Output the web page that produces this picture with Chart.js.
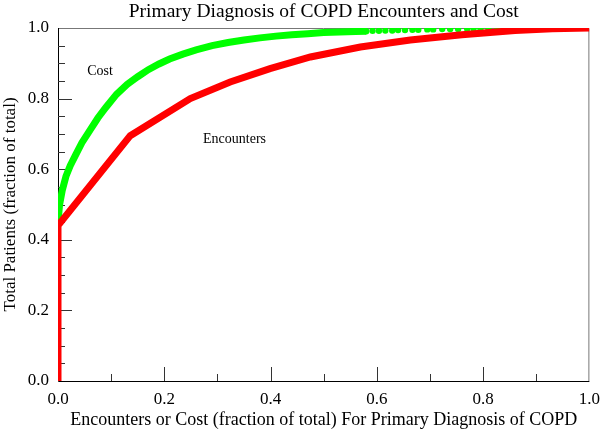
<!DOCTYPE html>
<html>
<head>
  <title>Primary Diagnosis of COPD Encounters and Cost</title>
  <script src="https://cdn.jsdelivr.net/npm/chart.js"></script>
  <style>
    body { margin: 0; background: white; }
    #wrap { width: 600px; height: 431px; }
  </style>
</head>
<body>
  <div id="wrap"><canvas id="copdChart" width="600" height="431"></canvas></div>

  <script>
    // Encounters curve (red)
    const encX = [0, 0, 0.136, 0.249, 0.324, 0.399, 0.475, 0.569, 0.663, 0.76, 0.86, 0.93, 1.0];
    const encY = [0, 0.44, 0.695, 0.80, 0.847, 0.885, 0.918, 0.946, 0.966, 0.981, 0.993, 0.998, 1.0];

    // Cost curve (green) - solid part then separate dots near the end
    const costX = [0, 0.003, 0.008, 0.015, 0.023, 0.033, 0.045, 0.06, 0.075, 0.09, 0.11, 0.13, 0.15, 0.17, 0.19,
                   0.21, 0.235, 0.26, 0.29, 0.32, 0.35, 0.38, 0.41, 0.44, 0.47, 0.50, 0.53, 0.56, 0.58,
                   0.592, 0.604, 0.616, 0.629, 0.640, 0.653, 0.667, 0.678, 0.695, 0.706, 0.723, 0.738,
                   0.753, 0.770, 0.782, 0.795, 0.810, 0.827, 0.847, 0.870, 0.895, 0.923];
    const costY = [0.45, 0.50, 0.54, 0.58, 0.61, 0.64, 0.675, 0.71, 0.745, 0.775, 0.812, 0.84, 0.862, 0.882, 0.898,
                   0.912, 0.926, 0.938, 0.95, 0.959, 0.966, 0.972, 0.977, 0.981, 0.984, 0.987, 0.989, 0.990, 0.991,
                   0.992, 0.992, 0.993, 0.993, 0.994, 0.994, 0.995, 0.995, 0.996, 0.996, 0.997, 0.997,
                   0.997, 0.998, 0.998, 0.998, 0.999, 0.999, 0.999, 1.0, 1.0, 1.0];
    const dotsFrom = 0.58;

    const xMinorStep = 0.1;
    const yMinorStep = 0.05;

    const titleText = 'Primary Diagnosis of COPD Encounters and Cost';
    const xTitle = 'Encounters or Cost (fraction of total) For Primary Diagnosis of COPD';
    const yTitle = 'Total Patients (fraction of total)';
    const curveLabels = ['Cost', 'Encounters'];
    const labelX = [0.055, 0.273];
    const labelY = [0.867, 0.674];

    const serif = '"Liberation Serif", "Times New Roman", serif';
    const toPoints = (xs, ys) => xs.map((v, i) => ({ x: v, y: ys[i] }));

    // frame + inward tick marks
    const framePlugin = {
      id: 'frame',
      beforeDatasetsDraw(chart) {
        const { ctx, chartArea: a, scales: { x, y } } = chart;
        ctx.save();
        ctx.lineWidth = 1;
        ctx.strokeStyle = '#777';
        ctx.beginPath();
        ctx.moveTo(a.left, a.top + 0.5);
        ctx.lineTo(a.right - 0.5, a.top + 0.5);
        ctx.lineTo(a.right - 0.5, a.bottom);
        ctx.stroke();

        ctx.strokeStyle = '#000';
        ctx.beginPath();
        ctx.moveTo(a.left + 0.5, a.top);
        ctx.lineTo(a.left + 0.5, a.bottom + 0.5);
        ctx.lineTo(a.right, a.bottom + 0.5);
        ctx.stroke();

        ctx.strokeStyle = '#333';
        ctx.beginPath();
        for (let i = 1; i < 10; i++) {
          const px = Math.round(x.getPixelForValue(i * xMinorStep)) + 0.5;
          const len = i % 2 === 0 ? 14 : 7;
          ctx.moveTo(px, a.bottom);
          ctx.lineTo(px, a.bottom - len);
        }
        for (let i = 1; i < 20; i++) {
          const py = Math.round(y.getPixelForValue(i * yMinorStep)) + 0.5;
          const len = i % 4 === 0 ? 14 : 7;
          ctx.moveTo(a.left, py);
          ctx.lineTo(a.left + len, py);
        }
        ctx.stroke();
        ctx.restore();
      },
      afterDatasetsDraw(chart) {
        const { ctx, chartArea: a, scales: { x, y } } = chart;
        ctx.save();
        ctx.fillStyle = '#000';
        ctx.font = '19.5px ' + serif;
        ctx.textAlign = 'center';
        ctx.textBaseline = 'alphabetic';
        ctx.fillText(titleText, (a.left + a.right) / 2, 17);

        ctx.font = '14px ' + serif;
        ctx.textAlign = 'left';
        curveLabels.forEach((t, i) => {
          ctx.fillText(t, x.getPixelForValue(labelX[i]), y.getPixelForValue(labelY[i]));
        });
        ctx.restore();
      }
    };

    new Chart(document.getElementById('copdChart').getContext('2d'), {
      type: 'scatter',
      data: {
        datasets: [
          {
            label: 'Encounters',
            data: toPoints(encX, encY),
            showLine: true,
            borderColor: '#ff0000',
            backgroundColor: '#ff0000',
            borderWidth: 7,
            pointRadius: 0,
            borderJoinStyle: 'miter'
          },
          {
            label: 'Cost',
            data: toPoints(costX, costY),
            showLine: true,
            borderColor: '#00ff00',
            backgroundColor: '#00ff00',
            borderWidth: 7,
            pointRadius: ctx => (ctx.raw && ctx.raw.x >= dotsFrom ? 3.2 : 0),
            pointBorderWidth: 0,
            segment: {
              borderColor: ctx => (ctx.p0.parsed.x >= dotsFrom ? 'rgba(0,0,0,0)' : '#00ff00')
            }
          }
        ]
      },
      options: {
        responsive: false,
        animation: false,
        layout: { padding: { top: 28, right: 0, bottom: 0, left: 0 } },
        plugins: {
          legend: { display: false },
          tooltip: { enabled: false },
          title: { display: false }
        },
        scales: {
          x: {
            type: 'linear',
            min: 0,
            max: 1,
            grid: { display: false },
            border: { display: false },
            ticks: {
              stepSize: 0.2,
              padding: 0,
              color: '#000',
              font: { family: serif, size: 17 },
              callback: v => v.toFixed(1)
            },
            title: {
              display: true,
              text: xTitle,
              color: '#000',
              font: { family: serif, size: 18 },
              padding: 0
            },
            afterFit: s => { s.height = 50; }
          },
          y: {
            type: 'linear',
            min: 0,
            max: 1,
            grid: { display: false },
            border: { display: false },
            ticks: {
              stepSize: 0.2,
              padding: 1,
              color: '#000',
              font: { family: serif, size: 17 },
              callback: v => v.toFixed(1)
            },
            title: {
              display: true,
              text: yTitle,
              color: '#000',
              font: { family: serif, size: 17 },
              padding: 0
            },
            afterFit: s => { s.width = 58; }
          }
        }
      },
      plugins: [framePlugin]
    });
  </script>
</body>
</html>
